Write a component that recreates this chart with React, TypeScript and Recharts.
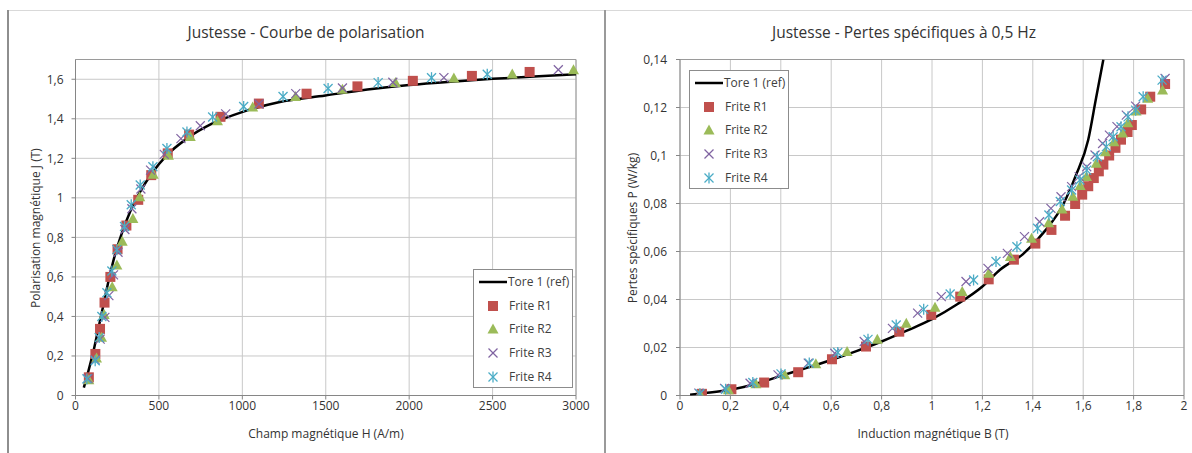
import React from 'react';
import { ScatterChart, Scatter, XAxis, YAxis, CartesianGrid, ReferenceLine } from 'recharts';

const FONT = '"Open Sans", "Noto Sans", sans-serif';

// ---------- Left chart : polarisation curve ----------
const leftTitle = 'Justesse - Courbe de polarisation';
const leftXLabel = 'Champ magnétique H (A/m)';
const leftYLabel = 'Polarisation magnétique J (T)';
const leftXTicks = [0, 500, 1000, 1500, 2000, 2500, 3000];
const leftYTicks = [0, 0.2, 0.4, 0.6, 0.8, 1, 1.2, 1.4, 1.6];

const toreH = [50, 78, 108, 134, 168, 198, 234, 278, 328, 388, 458, 548, 668, 818, 998, 1218, 1498, 1750, 2000, 2250, 2500, 2750, 3000];
const toreJ = [0.04, 0.126, 0.226, 0.327, 0.461, 0.579, 0.704, 0.822, 0.931, 1.031, 1.124, 1.216, 1.3, 1.375, 1.434, 1.484, 1.518, 1.548, 1.571, 1.588, 1.602, 1.614, 1.625];

const r1H = [80, 119, 147, 174, 209, 252, 305, 376, 454, 553, 681, 869, 1099, 1385, 1690, 2022, 2376, 2722];
const r1J = [0.092, 0.21, 0.337, 0.47, 0.6, 0.74, 0.86, 0.99, 1.115, 1.225, 1.32, 1.41, 1.477, 1.527, 1.564, 1.592, 1.617, 1.637];

const r2H = [80, 126, 156, 172, 220, 248, 280, 344, 385, 466, 557, 688, 851, 1062, 1319, 1600, 1918, 2268, 2618, 2985];
const r2J = [0.08, 0.19, 0.295, 0.41, 0.55, 0.66, 0.78, 0.895, 1.005, 1.12, 1.215, 1.31, 1.39, 1.46, 1.513, 1.55, 1.583, 1.607, 1.627, 1.648];

const r3H = [75, 118, 148, 176, 200, 228, 255, 296, 338, 392, 450, 532, 632, 748, 900, 1100, 1320, 1600, 1902, 2208, 2894];
const r3J = [0.085, 0.18, 0.285, 0.395, 0.505, 0.61, 0.725, 0.84, 0.945, 1.045, 1.14, 1.22, 1.3, 1.365, 1.425, 1.475, 1.527, 1.556, 1.585, 1.608, 1.648];

const r4H = [68, 118, 142, 158, 188, 218, 248, 294, 334, 388, 464, 548, 668, 822, 1008, 1244, 1514, 1814, 2134, 2468];
const r4J = [0.084, 0.176, 0.293, 0.4, 0.52, 0.63, 0.738, 0.855, 0.965, 1.065, 1.157, 1.25, 1.333, 1.409, 1.462, 1.513, 1.553, 1.583, 1.608, 1.625];

// ---------- Right chart : specific losses ----------
const rightTitle = 'Justesse - Pertes spécifiques à 0,5 Hz';
const rightXLabel = 'Induction magnétique B (T)';
const rightYLabel = 'Pertes spécifiques P (W/kg)';
const rightXTicks = [0, 0.2, 0.4, 0.6, 0.8, 1, 1.2, 1.4, 1.6, 1.8, 2];
const rightYTicks = [0, 0.02, 0.04, 0.06, 0.08, 0.1, 0.12, 0.14];

const toreB = [0.04, 0.1, 0.2, 0.3, 0.4, 0.5, 0.6, 0.7, 0.8, 0.9, 1.0, 1.1, 1.2, 1.27, 1.36, 1.45, 1.52, 1.57, 1.62, 1.65, 1.68];
const toreP = [0.0003, 0.001, 0.0024, 0.0048, 0.0082, 0.0114, 0.0148, 0.0185, 0.0225, 0.027, 0.0318, 0.038, 0.0454, 0.0524, 0.0588, 0.0688, 0.0795, 0.0915, 0.1066, 0.1233, 0.14];

const p1B = [0.087, 0.204, 0.334, 0.469, 0.603, 0.738, 0.87, 0.997, 1.112, 1.225, 1.325, 1.41, 1.474, 1.528, 1.568, 1.596, 1.62, 1.642, 1.662, 1.68, 1.703, 1.728, 1.75, 1.776, 1.793, 1.83, 1.866, 1.925];
const p1P = [0.0007, 0.0026, 0.0054, 0.0097, 0.0151, 0.0204, 0.0266, 0.0336, 0.0412, 0.0484, 0.0566, 0.0633, 0.069, 0.0749, 0.0798, 0.0837, 0.0872, 0.0906, 0.0934, 0.0962, 0.1, 0.1032, 0.1066, 0.1098, 0.1127, 0.1192, 0.1245, 0.1298];

const p2B = [0.079, 0.192, 0.301, 0.416, 0.539, 0.663, 0.783, 0.898, 1.012, 1.12, 1.225, 1.311, 1.395, 1.463, 1.516, 1.559, 1.588, 1.613, 1.652, 1.688, 1.722, 1.756, 1.777, 1.81, 1.856, 1.915];
const p2P = [0.0007, 0.0024, 0.0049, 0.0086, 0.0132, 0.0183, 0.0234, 0.0301, 0.0368, 0.0433, 0.0509, 0.0579, 0.0655, 0.072, 0.0777, 0.083, 0.0875, 0.0913, 0.0968, 0.1016, 0.1057, 0.1094, 0.1136, 0.1185, 0.1239, 0.1273];

const p3B = [0.075, 0.177, 0.278, 0.389, 0.509, 0.614, 0.731, 0.843, 0.943, 1.037, 1.135, 1.222, 1.299, 1.367, 1.427, 1.472, 1.512, 1.554, 1.584, 1.614, 1.647, 1.677, 1.704, 1.734, 1.771, 1.808, 1.925];
const p3P = [0.001, 0.003, 0.0051, 0.0086, 0.0135, 0.0176, 0.0225, 0.028, 0.0343, 0.0412, 0.0475, 0.053, 0.0592, 0.0662, 0.0724, 0.078, 0.0828, 0.087, 0.0912, 0.0953, 0.1002, 0.105, 0.1085, 0.112, 0.1168, 0.1206, 0.1321];

const p4B = [0.079, 0.181, 0.289, 0.401, 0.513, 0.626, 0.746, 0.858, 0.967, 1.072, 1.165, 1.254, 1.337, 1.419, 1.464, 1.509, 1.554, 1.587, 1.614, 1.656, 1.692, 1.719, 1.75, 1.778, 1.808, 1.838, 1.913];
const p4P = [0.0007, 0.0026, 0.0054, 0.009, 0.0135, 0.0179, 0.0234, 0.0294, 0.0359, 0.0423, 0.0481, 0.0558, 0.062, 0.0697, 0.0752, 0.0808, 0.0856, 0.0898, 0.0939, 0.0995, 0.1037, 0.1078, 0.112, 0.1161, 0.1189, 0.1245, 0.1314];

const seriesNames = ['Tore 1 (ref)', 'Frite R1', 'Frite R2', 'Frite R3', 'Frite R4'];
const C_R1 = '#C0504D';
const C_R2 = '#9BBB59';
const C_R3 = '#8064A2';
const C_R4 = '#4BACC6';

const zip = (xs: number[], ys: number[]) => xs.map((x, i) => ({ x, y: ys[i] }));
const fmt = (v: number) => String(v).replace('.', ',');

const SquareShape = (p: any) => <rect x={p.cx - 5} y={p.cy - 5} width={10} height={10} fill={C_R1} />;
const TriShape = (p: any) => (
  <polygon points={`${p.cx},${p.cy - 5.5} ${p.cx + 5.5},${p.cy + 4.5} ${p.cx - 5.5},${p.cy + 4.5}`} fill={C_R2} />
);
const CrossShape = (p: any) => (
  <g stroke={C_R3} strokeWidth={1.2}>
    <line x1={p.cx - 4.5} y1={p.cy - 4.5} x2={p.cx + 4.5} y2={p.cy + 4.5} />
    <line x1={p.cx - 4.5} y1={p.cy + 4.5} x2={p.cx + 4.5} y2={p.cy - 4.5} />
  </g>
);
const StarShape = (p: any) => (
  <g stroke={C_R4} strokeWidth={1.3}>
    <line x1={p.cx - 4.5} y1={p.cy - 4.5} x2={p.cx + 4.5} y2={p.cy + 4.5} />
    <line x1={p.cx - 4.5} y1={p.cy + 4.5} x2={p.cx + 4.5} y2={p.cy - 4.5} />
    <line x1={p.cx} y1={p.cy - 5.5} x2={p.cx} y2={p.cy + 5.5} />
  </g>
);
const NoShape = () => <g />;

const LegendIcon = ({ i }: { i: number }) => {
  if (i === 0) return <svg width={30} height={12}><line x1={0} y1={6} x2={28} y2={6} stroke="#000" strokeWidth={2.5} /></svg>;
  const p = { cx: 15, cy: 6 };
  return (
    <svg width={30} height={12}>
      {i === 1 && SquareShape(p)}
      {i === 2 && TriShape(p)}
      {i === 3 && CrossShape(p)}
      {i === 4 && StarShape(p)}
    </svg>
  );
};

const LegendBox = ({ left, top }: { left: number; top: number }) => (
  <div style={{ position: 'absolute', left, top, width: 98, height: 117, border: '1px solid #8c8c8c', background: '#fff', fontFamily: FONT, fontSize: 12, color: '#404040' }}>
    {seriesNames.map((n, i) => (
      <div key={n} style={{ position: 'absolute', left: i === 0 ? 5 : 4, top: 6 + i * 23.7, height: 12, display: 'flex', alignItems: 'center', whiteSpace: 'nowrap' }}>
        <LegendIcon i={i} />
        <span style={{ marginLeft: i === 0 ? -1 : 1, lineHeight: '12px' }}>{n}</span>
      </div>
    ))}
  </div>
);

const textStyle: React.CSSProperties = { position: 'absolute', fontFamily: FONT, color: '#333', whiteSpace: 'nowrap' };

const axisTick = { fontSize: 12, fill: '#333', fontFamily: FONT };

export default function App() {
  return (
    <div style={{ position: 'absolute', left: 0, top: 0, width: 1192, height: 453, background: '#fff', overflow: 'hidden' }}>
      {/* frames */}
      <div style={{ position: 'absolute', left: 8, top: 10, width: 1184, height: 1, background: '#d9d9d9' }} />
      <div style={{ position: 'absolute', left: 7, top: 10, width: 2, height: 443, background: '#8e8e8e' }} />
      <div style={{ position: 'absolute', left: 604, top: 10, width: 2, height: 443, background: '#9a9a9a' }} />

      {/* left chart */}
      <div style={{ position: 'absolute', left: 0, top: 0 }}>
        <ScatterChart width={600} height={453} margin={{ top: 59.5, right: 24, bottom: 27.5, left: 15.5 }}>
          <CartesianGrid stroke="#c8c8c8" strokeWidth={1} />
          <XAxis type="number" dataKey="x" domain={[0, 3000]} ticks={leftXTicks} height={30} tick={axisTick}
            stroke="#868686" tickSize={4} tickMargin={2} tickFormatter={fmt} />
          <YAxis type="number" dataKey="y" domain={[0, 1.7]} ticks={leftYTicks} width={60} tick={axisTick}
            stroke="#868686" tickSize={4} tickMargin={8} tickFormatter={fmt} />
          <ReferenceLine y={1.7} stroke="#9a9a9a" />
          <ReferenceLine x={3000} stroke="#9a9a9a" />
          <Scatter name={seriesNames[0]} data={zip(toreH, toreJ)} line={{ stroke: '#000', strokeWidth: 2.5 }} lineJointType="monotoneX" shape={NoShape} isAnimationActive={false} />
          <Scatter name={seriesNames[1]} data={zip(r1H, r1J)} shape={SquareShape} isAnimationActive={false} />
          <Scatter name={seriesNames[2]} data={zip(r2H, r2J)} shape={TriShape} isAnimationActive={false} />
          <Scatter name={seriesNames[3]} data={zip(r3H, r3J)} shape={CrossShape} isAnimationActive={false} />
          <Scatter name={seriesNames[4]} data={zip(r4H, r4J)} shape={StarShape} isAnimationActive={false} />
        </ScatterChart>
      </div>
      <div style={{ ...textStyle, left: 306, top: 32, transform: 'translate(-50%, -50%)', fontSize: 15.5 }}>{leftTitle}</div>
      <div style={{ ...textStyle, left: 326, top: 433, transform: 'translate(-50%, -50%)', fontSize: 12 }}>{leftXLabel}</div>
      <div style={{ ...textStyle, left: 34.5, top: 227.5, transform: 'translate(-50%, -50%) rotate(-90deg)', fontSize: 12 }}>{leftYLabel}</div>
      <LegendBox left={473} top={269} />

      {/* right chart */}
      <div style={{ position: 'absolute', left: 600, top: 0 }}>
        <ScatterChart width={592} height={453} margin={{ top: 59.5, right: 8, bottom: 27.5, left: 20 }}>
          <CartesianGrid stroke="#c8c8c8" strokeWidth={1} />
          <XAxis type="number" dataKey="x" domain={[0, 2]} ticks={rightXTicks} height={30} tick={axisTick}
            stroke="#868686" tickSize={4} tickMargin={2} tickFormatter={fmt} />
          <YAxis type="number" dataKey="y" domain={[0, 0.14]} ticks={rightYTicks} width={60} tick={axisTick}
            stroke="#868686" tickSize={4} tickMargin={9} tickFormatter={fmt} allowDataOverflow />
          <ReferenceLine y={0.14} stroke="#9a9a9a" />
          <ReferenceLine x={2} stroke="#9a9a9a" />
          <Scatter name={seriesNames[0]} data={zip(toreB, toreP)} line={{ stroke: '#000', strokeWidth: 2.5 }} lineJointType="monotoneX" shape={NoShape} isAnimationActive={false} />
          <Scatter name={seriesNames[1]} data={zip(p1B, p1P)} shape={SquareShape} isAnimationActive={false} />
          <Scatter name={seriesNames[2]} data={zip(p2B, p2P)} shape={TriShape} isAnimationActive={false} />
          <Scatter name={seriesNames[3]} data={zip(p3B, p3P)} shape={CrossShape} isAnimationActive={false} />
          <Scatter name={seriesNames[4]} data={zip(p4B, p4P)} shape={StarShape} isAnimationActive={false} />
        </ScatterChart>
      </div>
      <div style={{ ...textStyle, left: 904, top: 32, transform: 'translate(-50%, -50%)', fontSize: 15.5 }}>{rightTitle}</div>
      <div style={{ ...textStyle, left: 933, top: 433, transform: 'translate(-50%, -50%)', fontSize: 12 }}>{rightXLabel}</div>
      <div style={{ ...textStyle, left: 632, top: 228, transform: 'translate(-50%, -50%) rotate(-90deg)', fontSize: 12 }}>{rightYLabel}</div>
      <LegendBox left={689} top={70} />
    </div>
  );
}
